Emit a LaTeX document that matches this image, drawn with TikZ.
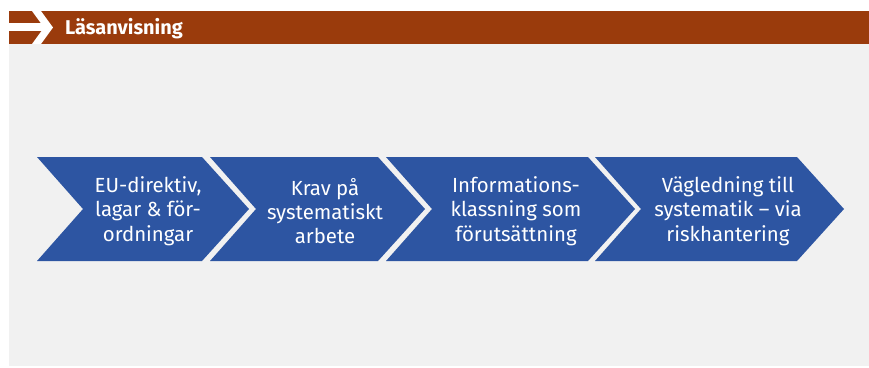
\documentclass[tikz,border=0pt]{standalone}
\usepackage{fontspec}
\setmainfont{Fira Sans}

\definecolor{rustbrown}{HTML}{9A3B0C}
\definecolor{stepblue}{HTML}{2D55A2}
\definecolor{panelgray}{HTML}{F1F1F1}

\begin{document}
\begin{tikzpicture}[x=1bp, y=-1bp,
    steptext/.style={text=white, align=center, inner sep=0,
        font=\fontsize{20.5}{24.5}\selectfont}]

    % frame
    \useasboundingbox (0,0) rectangle (869,367);
    \fill [white] (0,0) rectangle (869,367);
    \fill [panelgray] (9,44) rectangle (869,366);
    \fill [rustbrown] (9,11) rectangle (869,44);

    % header arrow
    \fill [white] (9,23) rectangle (44,30.5);
    \fill [white] (32,11) -- (41,11) -- (53,27.5) -- (41,44) -- (32,44) -- (44,27.5) -- cycle;
    \node [text=white, anchor=base west, inner sep=0,
        font=\bfseries\fontsize{20}{22}\selectfont] (title) at (65,34.5) {Läsanvisning};

    % chevrons
    \foreach \xa/\xb in {37/202, 210/378, 386/588, 595/797}
        \fill [stepblue] (\xa,157) -- (\xb,157) -- (\xb+47,209) -- (\xb,261)
            -- (\xa,261) -- (\xa+46,209) -- cycle;

    % labels
    \node [steptext] (eu)    at (148,211) {EU-direktiv,\\lagar \& för-\\ordningar};
    \node [steptext] (krav)  at (325,211) {Krav på\\systematiskt\\arbete};
    \node [steptext] (info)  at (516,211) {Informations-\\klassning som\\förutsättning};
    \node [steptext] (vag)   at (728,211) {Vägledning till\\systematik – via\\riskhantering};

\end{tikzpicture}
\end{document}
